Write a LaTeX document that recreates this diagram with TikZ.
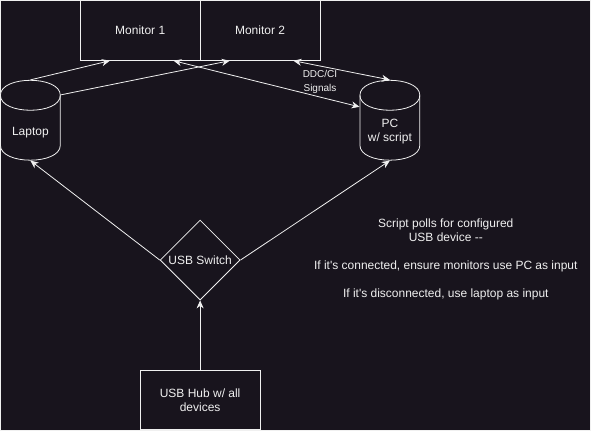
\documentclass[tikz,border=0pt]{standalone}
\usepackage{fontspec}
\setmainfont{Liberation Sans}
\usetikzlibrary{shapes.geometric,arrows.meta,calc}
\definecolor{bgc}{RGB}{24,20,29}
\definecolor{fgc}{RGB}{240,240,240}
\begin{document}
\begin{tikzpicture}[x=1pt,y=-1pt,
  every path/.style={draw=fgc,line width=0.8pt},
  box/.style={rectangle,draw=fgc,fill=bgc,line width=0.8pt,minimum width=120pt,minimum height=60pt,inner sep=0pt,text=fgc,font=\fontsize{12}{14}\selectfont,align=center},
  ghost/.style={rectangle,draw=none,inner sep=0pt,minimum width=60pt,minimum height=80pt},
  txt/.style={text=fgc,font=\fontsize{12}{14}\selectfont,align=center,inner sep=0pt},
  small/.style={text=fgc,font=\fontsize{10}{14}\selectfont,align=center,inner sep=0pt},
  sw/.style={diamond,draw=fgc,fill=bgc,line width=0.8pt,minimum width=80pt,minimum height=80pt,aspect=1,inner sep=0pt,text=fgc,font=\fontsize{12}{14}\selectfont},
  arr/.style={draw=fgc,line width=0.8pt,-{Stealth[length=8pt,width=7pt,inset=2.5pt]}},
  darr/.style={draw=fgc,line width=0.8pt,{Stealth[length=8pt,width=7pt,inset=2.5pt]}-{Stealth[length=8pt,width=7pt,inset=2.5pt]}}
]
\fill[bgc,draw=none] (0,0) rectangle (591,431);
\useasboundingbox (0,0) rectangle (591,431);

% monitors
\node[box] (m1) at (140,30) {Monitor 1};
\node[box] (m2) at (260,30) {Monitor 2};

% cylinders
\foreach \cx in {0,360}{
  \filldraw[fill=bgc,draw=fgc,line width=0.8pt]
    (\cx,95) .. controls (\cx,75) and (\cx+60,75) .. (\cx+60,95)
    -- (\cx+60,145) .. controls (\cx+60,165) and (\cx,165) .. (\cx,145) -- cycle;
  \draw[draw=fgc,line width=0.8pt] (\cx,95) .. controls (\cx,115) and (\cx+60,115) .. (\cx+60,95);
}
\node[ghost] (laptop) at (30,120) {};
\node[ghost] (pc) at (390,120) {};
\node[txt] (laptoplbl) at (30,132) {Laptop};
\node[txt] (pclbl) at (390,131) {PC\\w/ script};

% switch and hub
\node[sw] (switch) at (200,260) {USB Switch};
\node[box] (hub) at (200,400) {USB Hub w/ all\\devices};

% note
\node[txt] (note) at (446,259) {Script polls for configured\\USB device {-}{-}\\[14pt]If it\textquotesingle s connected, ensure monitors use PC as input\\[14pt]If it\textquotesingle s disconnected, use laptop as input};

% connectors
\draw[arr] (laptop.north) -- ($(m1.south west)+(30,0)$);
\draw[arr] ($(laptop.north east)+(0,15)$) -- ($(m2.south west)+(30,0)$);
\draw[darr] ($(m1.south east)+(-27,0)$) -- ($(pc.north west)+(0,27)$);
\draw[darr] ($(m2.south east)+(-27,0)$) -- (pc.north);
\node[small] (ddc) at (320,82) {DDC/CI\\Signals};
\draw[arr] (switch.west) -- (laptop.south);
\draw[arr] (switch.east) -- (pc.south);
\draw[arr] (hub.north) -- (switch.south);
\end{tikzpicture}
\end{document}
